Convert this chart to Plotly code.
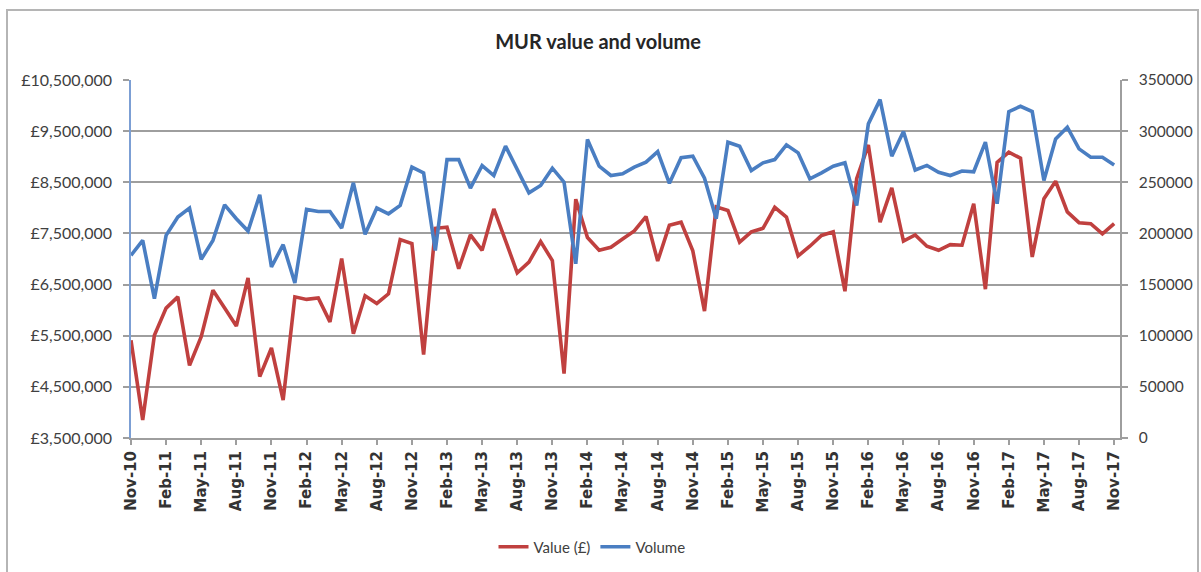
import pandas as pd
import plotly.graph_objects as go

# Monthly categories Nov-10 .. Nov-17
months = list(pd.date_range("2010-11-01", "2017-11-01", freq="MS").strftime("%b-%y"))

value_gbp = [
    5410000, 3850000, 5510000, 6040000, 6260000, 4920000, 5480000, 6390000, 6040000, 5690000,
    6630000, 4700000, 5260000, 4240000, 6260000, 6210000, 6240000, 5770000, 7010000, 5540000,
    6280000, 6130000, 6320000, 7380000, 7300000, 5130000, 7600000, 7620000, 6810000, 7470000,
    7170000, 7980000, 7360000, 6730000, 6940000, 7340000, 6970000, 4760000, 8170000, 7420000,
    7170000, 7230000, 7390000, 7550000, 7830000, 6960000, 7660000, 7720000, 7160000, 5980000,
    8020000, 7950000, 7330000, 7530000, 7600000, 8010000, 7820000, 7060000, 7250000, 7460000,
    7530000, 6370000, 8570000, 9230000, 7720000, 8390000, 7350000, 7470000, 7250000, 7170000,
    7280000, 7270000, 8080000, 6410000, 8890000, 9090000, 8970000, 7040000, 8180000, 8520000,
    7920000, 7710000, 7690000, 7490000, 7690000,
]

volume = [
    178600, 193200, 136300, 198100, 216000, 224800, 174700, 193200, 228000, 214400,
    202300, 237800, 167200, 189000, 151600, 223500, 221500, 221500, 205200, 249500,
    199100, 224800, 219200, 227400, 264800, 259200, 183400, 272200, 272200, 244300,
    266400, 256600, 285300, 263100, 239700, 246900, 263800, 250100, 170400, 291800,
    265700, 256600, 258300, 264800, 269700, 280000, 249000, 274000, 275500, 254000,
    214400, 289200, 285300, 261500, 269000, 272200, 286600, 278800, 253400, 259200,
    265700, 269000, 227400, 307100, 330800, 275500, 299600, 262000, 266500, 259800,
    256600, 261000, 260300, 289200, 229000, 319100, 324300, 319100, 251800, 292400,
    303800, 282700, 274500, 274500, 267000,
]

tick_labels = months[::3]
left_ticks = [3500000, 4500000, 5500000, 6500000, 7500000, 8500000, 9500000, 10500000]
left_tick_text = ["£3,500,000", "£4,500,000", "£5,500,000", "£6,500,000",
                  "£7,500,000", "£8,500,000", "£9,500,000", "£10,500,000"]
right_ticks = [0, 50000, 100000, 150000, 200000, 250000, 300000, 350000]
right_tick_text = ["0", "50000", "100000", "150000", "200000", "250000", "300000", "350000"]

RED = "#C0403F"
BLUE = "#4A7EC2"
GRID = "#9E9E9E"

fig = go.Figure()
fig.add_trace(go.Scatter(x=months, y=value_gbp, name="Value (£)", mode="lines",
                         line=dict(color=RED, width=3.6), yaxis="y"))
fig.add_trace(go.Scatter(x=months, y=volume, name="Volume", mode="lines",
                         line=dict(color=BLUE, width=3.6), yaxis="y2"))

fig.update_layout(
    width=1201, height=572,
    margin=dict(l=131, r=81, t=80, b=134, autoexpand=False),
    paper_bgcolor="white", plot_bgcolor="white",
    font=dict(family="Lato", color="#404040"),
    title=dict(text="<b>MUR value and volume</b>", x=0.498, xanchor="center",
               y=1 - 42 / 572, yanchor="middle", yref="container",
               font=dict(family="Lato", size=20, color="#262626")),
    xaxis=dict(
        type="category", range=[0, 84.5], automargin=False,
        tickmode="array", tickvals=tick_labels, ticktext=tick_labels,
        tickangle=-90, ticks="outside", ticklen=5, tickcolor=GRID, tickwidth=1.5,
        showgrid=False, showline=True, linecolor=GRID, linewidth=2,
        tickfont=dict(family="DejaVu Sans", size=15, color="#333333", weight="bold"),
        fixedrange=True,
    ),
    yaxis=dict(
        range=[3500000, 10500000], tickmode="array", tickvals=left_ticks, ticktext=left_tick_text,
        automargin=False,
        showgrid=True, gridcolor=GRID, gridwidth=2,
        showline=True, linecolor="#7C9FD4", linewidth=1.5,
        ticks="outside", ticklen=6, tickcolor=GRID, tickwidth=1.5,
        ticklabelstandoff=8,
        tickfont=dict(family="Lato", size=16, color="#404040"),
        zeroline=False,
    ),
    yaxis2=dict(
        range=[0, 350000], tickmode="array", tickvals=right_ticks, ticktext=right_tick_text,
        automargin=False,
        overlaying="y", side="right", showgrid=False,
        showline=True, linecolor=GRID, linewidth=1.5,
        ticks="outside", ticklen=6, tickcolor=GRID, tickwidth=1.5,
        ticklabelstandoff=8,
        tickfont=dict(family="Lato", size=15.5, color="#404040"),
        zeroline=False,
    ),
    legend=dict(orientation="h", x=(592 - 131) / 989, xanchor="center",
                y=(438 - 547) / 358, yanchor="middle",
                font=dict(family="Lato", size=15, color="#404040"),
                itemwidth=30, traceorder="normal"),
    showlegend=True,
    shapes=[dict(type="rect", xref="paper", yref="paper",
                 x0=(7 - 131) / 989, x1=(1198 - 131) / 989,
                 y0=(438 - 600) / 358, y1=(438 - 10) / 358,
                 line=dict(color="#B5B5B5", width=2), fillcolor="rgba(0,0,0,0)", layer="below")],
)

fig.write_html("out.html", config={"displayModeBar": False},
               post_script="document.body.style.margin='0';document.body.style.overflow='hidden';")
